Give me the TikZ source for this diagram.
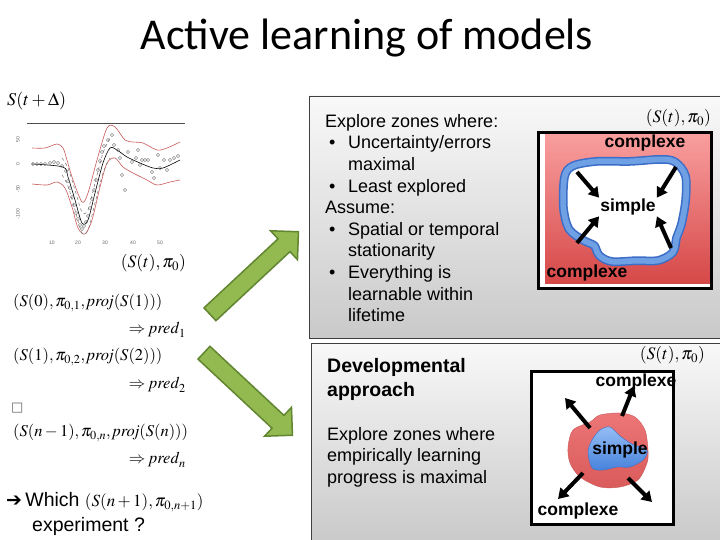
\documentclass[tikz,border=0pt]{standalone}
\usepackage{mathptmx}
\usepackage{fontspec}
\setmainfont{Liberation Sans}
\newfontfamily\titlefont{Carlito}
\newfontfamily\symbfont{DejaVu Sans}
\usetikzlibrary{arrows.meta, positioning, shapes.arrows, calc}

\definecolor{arrowgreen}{RGB}{146,186,80}
\definecolor{arrowedge}{RGB}{98,133,48}
\definecolor{bandred}{RGB}{200,90,90}
\definecolor{pinktop}{RGB}{249,158,158}
\definecolor{redbottom}{RGB}{214,72,72}
\definecolor{lumptop}{RGB}{236,118,118}
\definecolor{ringblue}{RGB}{112,160,228}
\definecolor{ringdark}{RGB}{60,110,200}
\definecolor{seedtop}{RGB}{150,190,245}
\definecolor{seedbottom}{RGB}{70,130,220}

\newcommand{\bul}{\makebox[23pt][l]{\hspace{4pt}\textbullet}}
\newcommand{\ind}{\makebox[23pt]{}}
\newcommand{\hollow}{plot[smooth cycle] coordinates {(568,178) (575,169) (597,165) (630,165) (660,163) (673,165) (682,177) (682,200) (678,223) (673,237) (670,250) (657,257) (637,257) (613,258) (602,253) (597,243) (585,237) (572,227) (567,207)}}
\newcommand{\lump}{plot[smooth cycle] coordinates {(568,447) (573,430) (590,422) (600,415) (620,413) (635,417) (645,430) (648,450) (647,463) (638,480) (620,487) (600,487) (580,477) (570,463)}}
\newcommand{\seed}{plot[smooth cycle] coordinates {(588,452) (592,440) (600,430) (610,427) (620,436) (632,444) (647,450) (643,460) (630,467) (617,467) (603,470) (592,468)}}

\begin{document}
\begin{tikzpicture}[x=1pt, y=-1pt,
   title/.style={font=\titlefont\fontsize{44}{48}\selectfont, inner sep=0pt},
   body/.style={font=\fontsize{18}{21.6}\selectfont, align=left, anchor=north west, inner sep=0pt},
   headline/.style={body, font=\bfseries\fontsize{19.5}{24}\selectfont},
   formula/.style={font=\fontsize{16.5}{20}\selectfont, inner sep=0pt},
   question/.style={font=\fontsize{19.5}{22}\selectfont, inner sep=0pt},
   panel/.style={draw=black!75, line width=0.8pt, top color=gray!5, bottom color=gray!42},
   frame/.style={draw=black, line width=3pt},
   zonetag/.style={font=\bfseries\fontsize{17.5}{20}\selectfont, inner sep=1pt},
   push/.style={-{Triangle[length=10pt,width=12pt]}, line width=4pt},
   bigarrow/.style={single arrow, draw=arrowedge, fill=arrowgreen, line width=1.5pt,
                    inner sep=8pt, minimum height=121pt, minimum width=38pt,
                    single arrow head extend=11pt},
   tick/.style={font=\fontsize{5}{6}\selectfont, text=black!60, inner sep=0pt}]

  \useasboundingbox[fill=white] (0,0) rectangle (720,540);

  \node[title] (heading) at (367,38) {Active learning of models};

  % regression plot
  \node[formula, anchor=west, font=\fontsize{18}{20}\selectfont] (target) at (7,101) {$S(t+\Delta)$};
  \draw[black!70, line width=0.8pt] (27,123) -- (185,123);
  \foreach \v/\y in {50/140, 0/164, -50/189, -100/214}
    \node[tick, rotate=90] at (18,\y) {\v};
  \foreach \v/\x in {10/52, 20/78, 30/105, 40/133, 50/160}
    \node[tick] at (\x,243) {\v};
  \draw[bandred, line width=0.6pt] plot[smooth] coordinates {(32,148) (45,148) (57,144) (63,148) (67,160) (72,177) (82,202) (88,193) (97,160) (107,128) (115,127) (125,140) (133,142) (143,143) (157,150) (167,148) (180,142)};
  \draw[bandred, line width=0.6pt] plot[smooth] coordinates {(32,184) (47,185) (57,182) (65,188) (72,207) (78,228) (85,234) (92,220) (100,187) (107,163) (115,158) (123,167) (133,173) (147,180) (157,185) (170,182) (180,180)};
  \draw[black!55, dashed, line width=0.5pt] plot[smooth] coordinates {(62,158) (68,168) (75,190) (82,212) (88,210) (95,183) (103,153) (110,138)};
  \draw[black!55, dashed, line width=0.5pt] plot[smooth] coordinates {(62,175) (68,186) (75,210) (82,233) (88,230) (95,203) (103,173) (110,158)};
  \draw[black, line width=0.6pt] plot[smooth] coordinates {(32,164) (63,167) (68,177) (75,200) (82,223) (88,220) (95,193) (103,163) (110,148) (117,150) (127,157) (140,163) (153,168) (163,168) (180,160)};
  \foreach \x/\y in {33/164, 37/164, 41/164, 45/164, 50/163, 54/162, 58/163, 62/166,
                     66/171, 68/181, 70/188, 72/197, 74/205, 76/213, 78/219, 80/225,
                     82/229, 84/226, 86/222, 88/216, 90/208, 92/199, 94/190, 96/180,
                     98/170, 100/161, 102/152, 104/146, 108/140, 112/135, 114/145,
                     118/150, 120/158, 122/175, 125/190, 128/152, 132/162, 136/158,
                     138/150, 140/165, 142/160, 145/160, 148/160, 152/172, 154/178,
                     158/155, 160/168, 164/160, 167/170, 170/160, 174/158, 178/156}
    \draw[black!60, line width=0.4pt] (\x,\y) circle (1.6pt);
  \node[formula, anchor=east, font=\fontsize{17.5}{20}\selectfont] (state) at (186,263) {$(S(t), \pi_0)$};

  % sequence of experiments
  \node[formula, anchor=west] (seq1) at (13,303) {$(S(0), \pi_{0,1}, \mathit{proj}(S(1)))$};
  \node[formula, anchor=east] (pred1) at (186,330) {$\Rightarrow \mathit{pred}_1$};
  \node[formula, anchor=west] (seq2) at (13,357) {$(S(1), \pi_{0,2}, \mathit{proj}(S(2)))$};
  \node[formula, anchor=east] (pred2) at (186,385) {$\Rightarrow \mathit{pred}_2$};
  \node[formula, anchor=west, text=black!60] (dots) at (11,408) {\symbfont\fontsize{13}{15}\selectfont □};
  \node[formula, anchor=west] (seqn) at (13,433) {$(S(n-1), \pi_{0,n}, \mathit{proj}(S(n)))$};
  \node[formula, anchor=east] (predn) at (186,460) {$\Rightarrow \mathit{pred}_n$};
  \node[question, anchor=west] (which) at (6,502)
       {{\symbfont\fontsize{19}{22}\selectfont ➔}\,Which \fontsize{17}{20}\selectfont$(S(n+1), \pi_{0,n+1})$};
  \node[question, anchor=west] (exper) at (32,526) {experiment ?};

  % two ways
  \node[bigarrow, rotate=43] (up) at (251,276) {};
  \node[bigarrow, rotate=-43] (down) at (245,391) {};

  % classical active learning
  \path[panel] (309,96) rectangle (722,338);
  \node[body] (explore) at (325,114) {Explore zones where:\\
    \bul Uncertainty/errors\\ \ind maximal\\ \bul Least explored\\ Assume:\\
    \bul Spatial or temporal\\ \ind stationarity\\ \bul Everything is\\
    \ind learnable within\\ \ind lifetime};
  \node[formula, anchor=east, font=\fontsize{17.5}{20}\selectfont] (space1) at (711,118) {$(S(t), \pi_0)$};
  \fill[white] (538,133) rectangle (711,288);
  \shade[top color=pinktop, bottom color=redbottom] (545,134) rectangle (710,283);
  \draw[line width=16pt, ringdark] \hollow;
  \draw[line width=13pt, ringblue] \hollow;
  \fill[white] \hollow;
  \draw[line width=1.5pt, ringdark] \hollow;
  \draw[frame] (538,133) rectangle (711,288);
  \node[zonetag] (hard1) at (645,143) {complexe};
  \node[zonetag] (easy1) at (628,207) {simple};
  \node[zonetag] (hard2) at (587,273) {complexe};
  \coordinate (in1) at (577,172);
  \coordinate (in2) at (676,167);
  \coordinate (in3) at (577,243);
  \coordinate (in4) at (671,248);
  \draw[push] (in1) -- (easy1.north west);
  \draw[push] (in2) -- (easy1.north east);
  \draw[push] (in3) -- (easy1.south west);
  \draw[push] (in4) -- (easy1.south east);

  % developmental approach
  \path[panel] (311,343) rectangle (722,542);
  \node[headline] (devel) at (327,358) {Developmental\\approach};
  \node[body] (progress) at (327,427) {Explore zones where\\empirically learning\\progress is maximal};
  \node[formula, anchor=east, font=\fontsize{17.5}{20}\selectfont] (space2) at (705,355) {$(S(t), \pi_0)$};
  \fill[white] (531,371) rectangle (673,524);
  \shade[top color=lumptop, bottom color=redbottom!90, draw=bandred, line width=0.4pt] \lump;
  \shade[top color=seedtop, bottom color=seedbottom, draw=ringdark, line width=0.4pt] \seed;
  \draw[frame] (531,371) rectangle (673,524);
  \node[zonetag] (easy2) at (620,450) {simple};
  \node[zonetag] (hard3) at (636,382) {complexe};
  \node[zonetag] (hard4) at (578,511) {complexe};
  \coordinate (out1) at (590,428);
  \coordinate (out2) at (622,416);
  \coordinate (out3) at (583,473);
  \coordinate (out4) at (628,478);
  \coordinate (far1) at (565,398);
  \coordinate (far2) at (634,386);
  \coordinate (far3) at (558,499);
  \coordinate (far4) at (652,502);
  \draw[push] (out1) -- (far1);
  \draw[push] (out2) -- (far2);
  \draw[push] (out3) -- (far3);
  \draw[push] (out4) -- (far4);
\end{tikzpicture}
\end{document}
